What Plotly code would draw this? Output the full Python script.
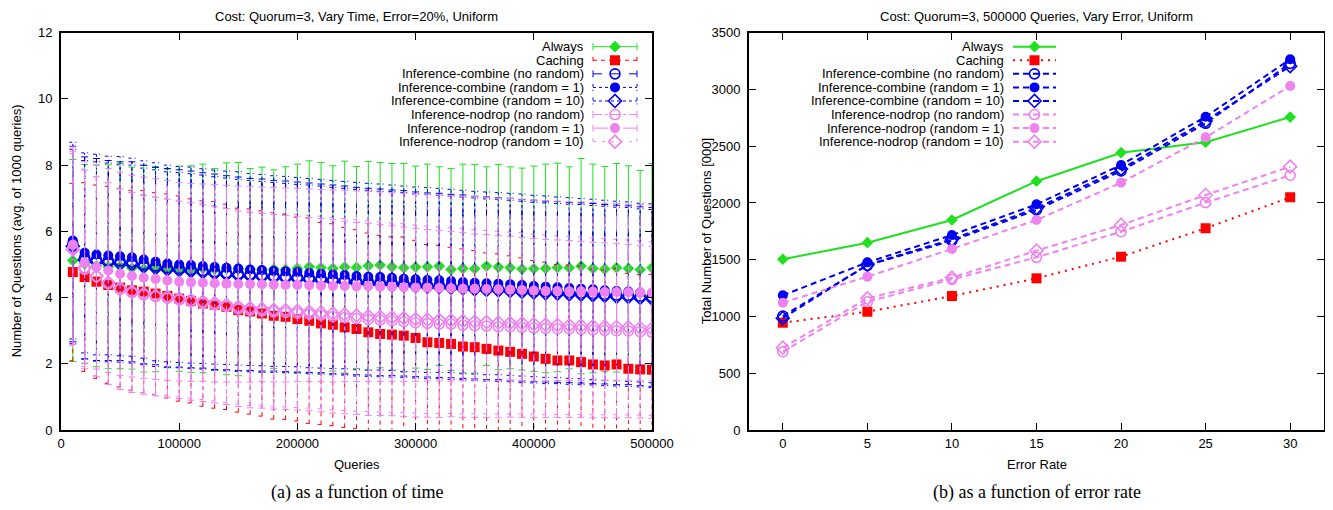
import plotly.graph_objects as go

# ---------------- data: (a) as a function of time ----------------
queries = [10000 * i for i in range(1, 51)]

always_mean = [5.12, 5.02, 4.96, 4.93, 4.95, 4.89, 4.87, 4.86, 4.88, 4.87,
               4.86, 4.88, 4.85, 4.87, 4.86, 4.85, 4.84, 4.86, 4.85, 4.88,
               4.93, 4.90, 4.88, 4.92, 4.91, 4.96, 4.98, 4.93, 4.90, 4.92,
               4.93, 4.95, 4.85, 4.88, 4.87, 4.95, 4.92, 4.90, 4.86, 4.87,
               4.88, 4.91, 4.90, 4.95, 4.88, 4.86, 4.90, 4.88, 4.84, 4.90]
always_std = [3.05, 3.00, 3.05, 3.08, 3.10, 3.05, 3.12, 3.10, 3.00, 3.10,
              3.12, 3.15, 3.05, 3.20, 3.22, 3.05, 3.10, 3.00, 3.10, 3.15,
              3.20, 3.18, 3.10, 3.20, 3.05, 3.15, 3.10, 3.12, 3.15, 3.05,
              3.10, 3.00, 3.05, 3.15, 3.15, 3.00, 3.10, 3.05, 3.05, 3.10,
              3.15, 3.15, 3.05, 3.25, 3.15, 3.10, 3.15, 3.10, 3.00, 3.15]

caching_mean = [4.77, 4.62, 4.48, 4.38, 4.30, 4.22, 4.18, 4.12, 4.05, 3.97,
                3.90, 3.82, 3.78, 3.72, 3.62, 3.58, 3.52, 3.45, 3.42, 3.35,
                3.30, 3.22, 3.18, 3.10, 3.05, 2.95, 2.90, 2.88, 2.85, 2.78,
                2.65, 2.63, 2.60, 2.52, 2.50, 2.45, 2.40, 2.36, 2.30, 2.22,
                2.15, 2.10, 2.10, 2.05, 1.98, 1.95, 1.98, 1.85, 1.83, 1.82]
caching_std = [2.68, 2.85, 2.92, 2.98, 3.00, 3.02, 3.05, 3.05, 3.08, 3.10,
               3.08, 3.10, 3.12, 3.10, 3.08, 3.10, 3.10, 3.12, 3.10, 3.08,
               3.10, 3.05, 3.05, 3.02, 3.00, 3.00, 2.98, 2.95, 2.98, 2.95,
               2.95, 2.95, 2.92, 2.95, 2.92, 2.90, 2.92, 2.90, 2.90, 2.90,
               2.92, 2.90, 2.88, 2.90, 2.88, 2.88, 2.90, 2.88, 2.86, 2.88]

comb_nr_mean = [5.62, 5.20, 5.15, 5.12, 5.10, 5.08, 5.00, 4.95, 4.90, 4.88,
                4.85, 4.82, 4.78, 4.75, 4.72, 4.70, 4.68, 4.66, 4.64, 4.62,
                4.60, 4.58, 4.55, 4.53, 4.50, 4.48, 4.46, 4.45, 4.43, 4.40,
                4.38, 4.37, 4.35, 4.33, 4.30, 4.28, 4.27, 4.25, 4.22, 4.20,
                4.18, 4.17, 4.15, 4.14, 4.12, 4.10, 4.08, 4.07, 4.04, 4.02]
comb_nr_std = [2.95, 3.05, 3.05, 3.02, 3.00, 3.02, 3.00, 2.98, 3.00, 2.98,
               2.97, 2.95, 2.95, 2.93, 2.92, 2.90, 2.90, 2.88, 2.88, 2.87,
               2.86, 2.85, 2.85, 2.84, 2.83, 2.82, 2.82, 2.80, 2.80, 2.79,
               2.78, 2.78, 2.77, 2.77, 2.76, 2.76, 2.75, 2.75, 2.74, 2.74,
               2.73, 2.73, 2.72, 2.72, 2.72, 2.71, 2.71, 2.70, 2.70, 2.70]

comb_r1_mean = [5.72, 5.35, 5.30, 5.27, 5.25, 5.22, 5.15, 5.08, 5.03, 5.00,
                4.98, 4.95, 4.92, 4.90, 4.88, 4.85, 4.83, 4.80, 4.79, 4.77,
                4.74, 4.72, 4.70, 4.68, 4.65, 4.63, 4.62, 4.60, 4.57, 4.55,
                4.53, 4.52, 4.50, 4.47, 4.45, 4.43, 4.42, 4.40, 4.38, 4.35,
                4.33, 4.31, 4.29, 4.27, 4.25, 4.22, 4.20, 4.18, 4.15, 4.13]
comb_r1_std = [2.97, 3.02, 3.03, 3.00, 3.01, 2.99, 2.98, 2.99, 2.97, 2.96,
               2.96, 2.94, 2.93, 2.92, 2.92, 2.90, 2.89, 2.88, 2.87, 2.86,
               2.86, 2.85, 2.84, 2.83, 2.83, 2.82, 2.81, 2.80, 2.80, 2.79,
               2.79, 2.78, 2.77, 2.77, 2.76, 2.76, 2.75, 2.75, 2.75, 2.74,
               2.74, 2.73, 2.73, 2.72, 2.72, 2.72, 2.71, 2.71, 2.70, 2.70]

comb_r10_mean = [5.55, 5.14, 5.09, 5.06, 5.03, 5.01, 4.94, 4.89, 4.85, 4.83,
                 4.80, 4.77, 4.73, 4.70, 4.67, 4.65, 4.63, 4.61, 4.59, 4.57,
                 4.55, 4.53, 4.50, 4.48, 4.45, 4.43, 4.41, 4.40, 4.38, 4.35,
                 4.33, 4.32, 4.30, 4.28, 4.25, 4.23, 4.22, 4.20, 4.17, 4.15,
                 4.13, 4.12, 4.10, 4.09, 4.07, 4.05, 4.03, 4.02, 3.99, 3.97]
comb_r10_std = [2.93, 3.00, 3.01, 3.00, 2.98, 2.99, 2.97, 2.97, 2.95, 2.95,
                2.94, 2.93, 2.92, 2.91, 2.90, 2.89, 2.88, 2.87, 2.86, 2.85,
                2.85, 2.84, 2.83, 2.82, 2.82, 2.81, 2.80, 2.80, 2.79, 2.78,
                2.78, 2.77, 2.77, 2.76, 2.76, 2.75, 2.75, 2.74, 2.74, 2.73,
                2.73, 2.72, 2.72, 2.72, 2.71, 2.71, 2.70, 2.70, 2.69, 2.69]

nodrop_nr_mean = [5.50, 4.85, 4.63, 4.42, 4.25, 4.15, 4.08, 4.03, 3.98, 3.93,
                  3.88, 3.83, 3.78, 3.73, 3.66, 3.62, 3.60, 3.57, 3.55, 3.53,
                  3.50, 3.47, 3.43, 3.40, 3.37, 3.34, 3.32, 3.30, 3.27, 3.24,
                  3.22, 3.20, 3.20, 3.17, 3.15, 3.14, 3.12, 3.12, 3.10, 3.08,
                  3.07, 3.06, 3.05, 3.04, 3.02, 3.01, 3.00, 2.99, 2.97, 2.95]
nodrop_nr_std = [2.92, 3.00, 3.02, 3.05, 3.03, 3.02, 3.00, 3.00, 2.99, 2.98,
                 2.98, 2.97, 2.96, 2.96, 2.95, 2.95, 2.94, 2.94, 2.93, 2.93,
                 2.92, 2.92, 2.92, 2.91, 2.90, 2.90, 2.88, 2.87, 2.86, 2.85,
                 2.83, 2.82, 2.80, 2.79, 2.77, 2.76, 2.75, 2.73, 2.72, 2.70,
                 2.69, 2.68, 2.67, 2.66, 2.65, 2.64, 2.63, 2.62, 2.61, 2.60]

nodrop_r1_mean = [5.60, 5.05, 4.92, 4.82, 4.72, 4.65, 4.60, 4.56, 4.52, 4.48,
                  4.46, 4.45, 4.43, 4.42, 4.41, 4.40, 4.40, 4.39, 4.38, 4.38,
                  4.37, 4.36, 4.35, 4.35, 4.34, 4.34, 4.33, 4.32, 4.31, 4.30,
                  4.30, 4.29, 4.28, 4.27, 4.27, 4.26, 4.25, 4.24, 4.23, 4.21,
                  4.20, 4.20, 4.19, 4.19, 4.18, 4.17, 4.17, 4.16, 4.15, 4.15]
nodrop_r1_std = [2.95, 3.05, 3.08, 3.08, 3.07, 3.05, 3.04, 3.03, 3.02, 3.00,
                 2.99, 2.98, 2.98, 2.97, 2.96, 2.95, 2.94, 2.94, 2.93, 2.92,
                 2.91, 2.90, 2.90, 2.89, 2.88, 2.87, 2.86, 2.85, 2.84, 2.83,
                 2.82, 2.81, 2.80, 2.79, 2.78, 2.77, 2.76, 2.75, 2.74, 2.73,
                 2.72, 2.71, 2.70, 2.70, 2.69, 2.68, 2.67, 2.66, 2.66, 2.65]

nodrop_r10_mean = [5.45, 4.90, 4.65, 4.45, 4.28, 4.18, 4.12, 4.06, 4.02, 3.97,
                   3.92, 3.88, 3.83, 3.78, 3.72, 3.68, 3.66, 3.63, 3.62, 3.60,
                   3.57, 3.55, 3.52, 3.49, 3.46, 3.44, 3.42, 3.40, 3.38, 3.35,
                   3.33, 3.32, 3.31, 3.29, 3.27, 3.26, 3.24, 3.23, 3.22, 3.20,
                   3.18, 3.17, 3.16, 3.15, 3.13, 3.12, 3.11, 3.10, 3.08, 3.06]
nodrop_r10_std = [2.90, 2.98, 3.00, 3.02, 3.01, 3.00, 2.99, 2.98, 2.97, 2.97,
                  2.96, 2.96, 2.95, 2.95, 2.94, 2.94, 2.93, 2.93, 2.92, 2.92,
                  2.91, 2.91, 2.90, 2.90, 2.89, 2.88, 2.87, 2.86, 2.85, 2.84,
                  2.83, 2.82, 2.81, 2.80, 2.78, 2.77, 2.76, 2.75, 2.74, 2.72,
                  2.71, 2.70, 2.69, 2.68, 2.67, 2.66, 2.65, 2.64, 2.63, 2.62]

# ---------------- data: (b) as a function of error rate ----------------
error_rates = [0, 5, 10, 15, 20, 25, 30]
err_always = [1504, 1650, 1850, 2192, 2443, 2535, 2757]
err_caching = [945, 1042, 1180, 1336, 1527, 1777, 2050]
err_comb_nr = [1004, 1451, 1668, 1938, 2282, 2702, 3230]
err_comb_r1 = [1186, 1477, 1718, 1988, 2335, 2760, 3266]
err_comb_r10 = [985, 1455, 1680, 1955, 2300, 2722, 3205]
err_nodrop_nr = [690, 1130, 1327, 1521, 1747, 2003, 2244]
err_nodrop_r1 = [1122, 1351, 1595, 1850, 2179, 2578, 3031]
err_nodrop_r10 = [725, 1160, 1342, 1580, 1806, 2070, 2320]

names = ["Always", "Caching", "Inference-combine (no random)",
         "Inference-combine (random = 1)", "Inference-combine (random = 10)",
         "Inference-nodrop (no random)", "Inference-nodrop (random = 1)",
         "Inference-nodrop (random = 10)"]

GREEN, RED, BLUE, VIOLET = "#1fe01f", "#ff0000", "#0000f0", "#ee82ee"

# style per series: color, marker symbol, marker size, bar dash (left), line dash (right)
styles = [
    (GREEN, "diamond", 9, "solid", "solid"),
    (RED, "square", 10, "4px,4px", "2px,5px"),
    (BLUE, "circle-open", 10, "dash", "6px,4px"),
    (BLUE, "circle", 10, "3px,3px", "6px,4px"),
    (BLUE, "diamond-open", 10, "dot", "6px,4px"),
    (VIOLET, "circle-open", 10, "dashdot", "6px,4px"),
    (VIOLET, "circle", 10, "longdashdot", "6px,4px"),
    (VIOLET, "diamond-open", 10, "3px,6px", "6px,4px"),
]

time_series = [(always_mean, always_std), (caching_mean, caching_std),
               (comb_nr_mean, comb_nr_std), (comb_r1_mean, comb_r1_std),
               (comb_r10_mean, comb_r10_std), (nodrop_nr_mean, nodrop_nr_std),
               (nodrop_r1_mean, nodrop_r1_std), (nodrop_r10_mean, nodrop_r10_std)]
err_series = [err_always, err_caching, err_comb_nr, err_comb_r1, err_comb_r10,
              err_nodrop_nr, err_nodrop_r1, err_nodrop_r10]

# page coordinates (the html body has an 8px margin)
PAGE_W, PAGE_H, OFF = 1333, 510, 8
W, H = PAGE_W - 2 * OFF, PAGE_H - 2 * OFF
# plot-area boxes in page pixels
L1, R1 = 61, 652
L2, R2 = 749, 1324
TOP, BOT = 32.7, 430

fig = go.Figure()

CAP = 3.5 * 500000 / (R1 - L1)  # cap half width in data units


def bar_segments(xs, means, stds):
    bx, by = [], []
    for x, m, s in zip(xs, means, stds):
        lo, hi = m - s, m + s
        bx += [x, x, None, x - CAP, x + CAP, None, x - CAP, x + CAP, None]
        by += [lo, hi, None, lo, lo, None, hi, hi, None]
    return bx, by


def mk(sym, size, color):
    open_ = sym.endswith("-open")
    return dict(symbol=sym, size=size, color=color,
                line=dict(color=color, width=1.6 if open_ else 0))


# left chart: error bars + markers in series order
for (mean, std), (col, sym, size, bdash, ldash) in zip(time_series, styles):
    bx, by = bar_segments(queries, mean, std)
    fig.add_trace(go.Scatter(x=bx, y=by, mode="lines", xaxis="x", yaxis="y",
                             line=dict(color=col, width=1, dash=bdash),
                             hoverinfo="skip", showlegend=False))
    fig.add_trace(go.Scatter(x=queries, y=mean, mode="markers", xaxis="x", yaxis="y",
                             marker=mk(sym, size, col), showlegend=False))

# right chart
for vals, (col, sym, size, bdash, ldash), nm in zip(err_series, styles, names):
    fig.add_trace(go.Scatter(x=error_rates, y=vals, mode="lines+markers",
                             xaxis="x2", yaxis="y2", name=nm,
                             line=dict(color=col, width=2, dash=ldash),
                             marker=mk(sym, size, col), showlegend=False))

# ---------------- custom gnuplot-like keys (pixel overlay axis) ----------------
ROW0, ROWH = 46.7, 13.57
FONT = "Liberation Sans, Arial, sans-serif"
annotations = []
for panel, (text_r, s0, s1) in enumerate([(586, 593, 637), (1006, 1013, 1056)]):
    for k, (nm, (col, sym, size, bdash, ldash)) in enumerate(zip(names, styles)):
        yk = ROW0 + k * ROWH
        annotations.append(dict(x=text_r, y=yk, xref="x3", yref="y3", text=nm,
                                showarrow=False, xanchor="right", yanchor="middle",
                                font=dict(family=FONT, size=13, color="black")))
        if panel == 0:
            lx = [s0, s1, None, s0, s0, None, s1, s1]
            ly = [yk, yk, None, yk - 3.5, yk + 3.5, None, yk - 3.5, yk + 3.5]
            dash, lw = bdash, 1
        else:
            lx = [s0, s1]
            ly = [yk, yk]
            dash, lw = ldash, 2
        fig.add_trace(go.Scatter(x=lx, y=ly, mode="lines", xaxis="x3", yaxis="y3",
                                 line=dict(color=col, width=lw, dash=dash),
                                 hoverinfo="skip", showlegend=False))
        fig.add_trace(go.Scatter(x=[(s0 + s1) / 2], y=[yk], mode="markers",
                                 xaxis="x3", yaxis="y3", marker=mk(sym, size, col),
                                 hoverinfo="skip", showlegend=False))

# titles, axis titles, captions
cx1, cx2 = (L1 + R1) / 2, (L2 + R2) / 2
texts = [
    (cx1, 16, "Cost: Quorum=3, Vary Time, Error=20%, Uniform", 13, FONT, 0),
    (cx2, 16, "Cost: Quorum=3, 500000 Queries, Vary Error, Uniform", 13, FONT, 0),
    (cx1, 464, "Queries", 13, FONT, 0),
    (cx2, 464, "Error Rate", 13, FONT, 0),
    (16, (TOP + BOT) / 2, "Number of Questions (avg. of 1000 queries)", 13, FONT, -90),
    (706, (TOP + BOT) / 2, "Total Number of Questions [000]", 13, FONT, -90),
    (cx1, 492, "(a) as a function of time", 18, "Liberation Serif, serif", 0),
    (cx2, 492, "(b) as a function of error rate", 18, "Liberation Serif, serif", 0),
]
for x, y, t, sz, fam, ang in texts:
    annotations.append(dict(x=x, y=y, xref="x3", yref="y3", text=t, showarrow=False,
                            xanchor="center", yanchor="middle", textangle=ang,
                            font=dict(family=fam, size=sz, color="black")))

ydom = [(H - (BOT - OFF)) / H, (H - (TOP - OFF)) / H]
axis_common = dict(showline=True, linewidth=2, linecolor="black", mirror="ticks",
                   ticks="inside", ticklen=7, tickwidth=1, tickcolor="black",
                   showgrid=False, zeroline=False,
                   tickfont=dict(family=FONT, size=13, color="black"))

fig.update_layout(
    width=W, height=H, margin=dict(l=0, r=0, t=0, b=0, autoexpand=False),
    paper_bgcolor="white", plot_bgcolor="rgba(0,0,0,0)", showlegend=False,
    xaxis=dict(domain=[(L1 - OFF) / W, (R1 - OFF) / W], range=[0, 500000], anchor="y",
               tickvals=[0, 100000, 200000, 300000, 400000, 500000],
               ticktext=["0", "100000", "200000", "300000", "400000", "500000"],
               **axis_common),
    yaxis=dict(domain=ydom, range=[0, 12], anchor="x", dtick=2, ticklabelstandoff=4,
               **axis_common),
    xaxis2=dict(domain=[(L2 - OFF) / W, (R2 - OFF) / W], range=[-2, 32], anchor="y2",
                tickvals=error_rates, **axis_common),
    yaxis2=dict(domain=ydom, range=[0, 3500], anchor="x2", dtick=500,
                ticklabelstandoff=4, **axis_common),
    xaxis3=dict(domain=[0, 1], range=[OFF, OFF + W], visible=False, anchor="y3",
                fixedrange=True),
    yaxis3=dict(domain=[0, 1], range=[OFF + H, OFF], visible=False, anchor="x3",
                fixedrange=True),
    annotations=annotations,
)

fig.write_html("out.html")
